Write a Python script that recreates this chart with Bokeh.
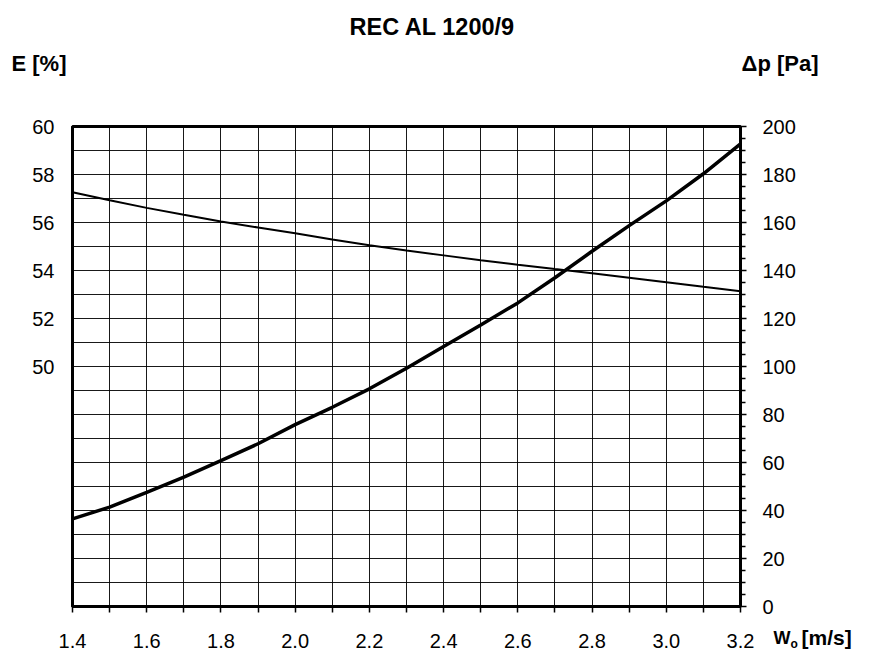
from bokeh.plotting import figure
from bokeh.models import LinearAxis, Range1d, FixedTicker, Label, Grid
from bokeh.embed import file_html
from bokeh.resources import INLINE

# ---- data ----
w_speed = [1.4, 1.5, 1.6, 1.7, 1.8, 1.9, 2.0, 2.1, 2.2, 2.3, 2.4,
           2.5, 2.6, 2.7, 2.8, 2.9, 3.0, 3.1, 3.2]
efficiency = [57.26, 56.93, 56.61, 56.32, 56.04, 55.79, 55.55, 55.29, 55.05, 54.83,
              54.63, 54.43, 54.24, 54.06, 53.89, 53.70, 53.51, 53.32, 53.14]
pressure = [36.5, 41.4, 47.6, 53.9, 60.8, 67.8, 75.8, 83.0, 90.7, 99.3,
            108.3, 117.3, 126.5, 137.0, 148.0, 158.7, 169.0, 180.3, 192.8]

x_ticks = [1.4, 1.6, 1.8, 2.0, 2.2, 2.4, 2.6, 2.8, 3.0, 3.2]
x_minor = [1.5, 1.7, 1.9, 2.1, 2.3, 2.5, 2.7, 2.9, 3.1]
e_ticks = [50, 52, 54, 56, 58, 60]
p_ticks = [0, 20, 40, 60, 80, 100, 120, 140, 160, 180, 200]
p_minor = [v + 5 * k for v in range(0, 200, 20) for k in (1, 2, 3)]
grid_x = [round(1.4 + 0.1 * i, 2) for i in range(19)]
grid_y = list(range(0, 201, 10))

title_text = "REC AL 1200/9"
left_title = "E [%]"
right_title = "Δp [Pa]"
x_title_main = "W"
x_title_sub = "o"
x_title_unit = "[m/s]"

FONT = "Liberation Sans"
W, H = 869, 655
L, R, T, B = 72, 129, 126, 49
X0, X1, Y0, Y1 = 1.4, 3.2, 0, 200

p = figure(width=W, height=H, x_range=Range1d(X0, X1), y_range=Range1d(Y0, Y1),
           output_backend="svg", toolbar_location=None, tools="",
           min_border_left=L, min_border_right=R, min_border_top=T, min_border_bottom=B,
           y_axis_location=None, x_axis_location=None)
p.extra_y_ranges = {"E": Range1d(40, 60)}
p.outline_line_color = "black"
p.outline_line_width = 3
p.background_fill_color = "white"
p.border_fill_color = "white"

# grid
p.xgrid.visible = False
p.ygrid.visible = False
gx = Grid(dimension=0, ticker=FixedTicker(ticks=grid_x), grid_line_color="black",
          grid_line_width=1, grid_line_alpha=0.9)
gy = Grid(dimension=1, ticker=FixedTicker(ticks=grid_y), grid_line_color="black",
          grid_line_width=1, grid_line_alpha=0.9)
p.add_layout(gx, "center")
p.add_layout(gy, "center")

TICK_SIZE = "20px"

# bottom axis
xa = LinearAxis(ticker=FixedTicker(ticks=x_ticks, minor_ticks=x_minor))
xa.major_label_overrides = {v: f"{v:.1f}" for v in x_ticks}
xa.axis_line_width = 3
xa.major_tick_out = 6
xa.major_tick_in = 0
xa.minor_tick_out = 6
xa.minor_tick_in = 0
xa.major_tick_line_width = 1.5
xa.minor_tick_line_width = 1.5
xa.major_label_standoff = 21
xa.major_label_text_font = FONT
xa.major_label_text_font_size = TICK_SIZE
xa.major_label_text_color = "black"
p.add_layout(xa, "below")

# left axis (E)
la = LinearAxis(y_range_name="E", ticker=FixedTicker(ticks=e_ticks, minor_ticks=[]))
la.axis_line_width = 3
la.major_tick_out = 0
la.major_tick_in = 0
la.minor_tick_out = 0
la.minor_tick_in = 0
la.major_label_standoff = 18
la.major_label_text_font = FONT
la.major_label_text_font_size = TICK_SIZE
la.major_label_text_color = "black"
p.add_layout(la, "left")

# right axis (dp)
ra = LinearAxis(ticker=FixedTicker(ticks=p_ticks, minor_ticks=p_minor))
ra.axis_line_width = 3
ra.major_tick_out = 6
ra.major_tick_in = 0
ra.minor_tick_out = 5
ra.minor_tick_in = 0
ra.major_tick_line_width = 1.5
ra.minor_tick_line_width = 1.5
ra.major_label_standoff = 16
ra.major_label_text_font = FONT
ra.major_label_text_font_size = TICK_SIZE
ra.major_label_text_color = "black"
p.add_layout(ra, "right")

# curves
p.line(w_speed, efficiency, y_range_name="E", line_color="black", line_width=2)
p.line(w_speed, pressure, line_color="black", line_width=3.5)

# texts: Labels placed in side panels (not clipped), positioned via the frame's scales
FW, FH = W - L - R, H - T - B

def add_label(text, px, baseline_py, size_px, align="left", side="above"):
    bottom_py = baseline_py + 0.21 * size_px
    x = X0 + (px - L) / FW * (X1 - X0)
    y = Y0 + (H - B - bottom_py) / FH * (Y1 - Y0)
    lab = Label(x=x, y=y, text=text, text_font=FONT, text_font_size=f"{size_px}px",
                text_font_style="bold", text_align=align, text_baseline="bottom",
                text_color="black")
    p.add_layout(lab, side)

add_label(title_text, 432, 35, 23.5, align="center")
add_label(left_title, 11, 71, 22)
add_label(right_title, 818, 71, 22, align="right")
add_label(x_title_main, 773, 644, 18)
add_label(x_title_unit, 801, 644, 21)
add_label(x_title_sub, 790, 648, 12, side="right")

open("out.html", "w").write(file_html(p, INLINE))
